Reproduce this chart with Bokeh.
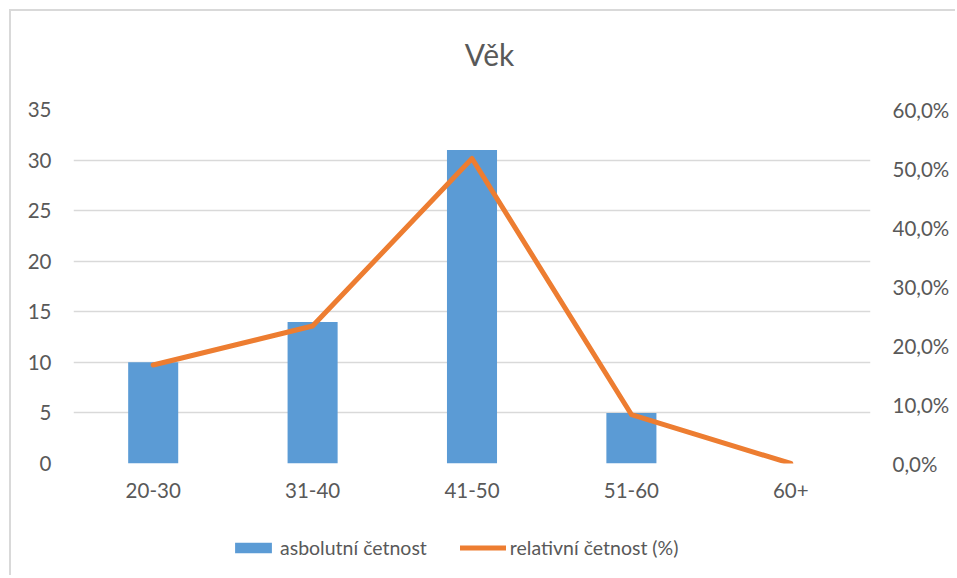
from bokeh.plotting import figure
from bokeh.layouts import column
from bokeh.models import (Range1d, LinearAxis, FixedTicker, Legend, LegendItem,
                          FactorRange, ColumnDataSource, Label)
from bokeh.embed import file_html
from bokeh.resources import INLINE

categories = ["20-30", "31-40", "41-50", "51-60", "60+"]
abs_counts = [10, 14, 31, 5, 0]
rel_pct = [16.7, 23.3, 51.7, 8.3, 0.0]
left_ticks = [0, 5, 10, 15, 20, 25, 30, 35]
right_ticks = [0, 10, 20, 30, 40, 50, 60]
right_labels = ["0,0%", "10,0%", "20,0%", "30,0%", "40,0%", "50,0%", "60,0%"]
title_text = "Věk"
series_names = ["asbolutní četnost", "relativní četnost (%)"]

FONT = "Lato"
TXT = "#595959"
BLUE = "#5B9BD5"
ORANGE = "#ED7D31"
GRID = "#D9D9D9"
FW, FH = 797, 354
BL, BR = 62, 85
LW = 5

src = ColumnDataSource(dict(cat=categories, abs=abs_counts, rel=rel_pct))


def strip(h, xr):
    f = figure(frame_width=FW, frame_height=h,
               x_range=xr, y_range=Range1d(0, h),
               min_border_left=BL, min_border_right=BR,
               min_border_top=0, min_border_bottom=0,
               x_axis_location=None, y_axis_location=None,
               output_backend="svg", toolbar_location=None)
    f.outline_line_color = None
    f.xgrid.grid_line_color = None
    f.ygrid.grid_line_color = None
    f.border_fill_color = "white"
    f.background_fill_color = "white"
    return f


# ---- title ----
pt = strip(60, Range1d(0, FW))
pt.add_layout(Label(x=416, y=18, text=title_text,
                    text_align="center", text_baseline="middle",
                    text_font=FONT, text_font_size="30px", text_color=TXT))

# ---- main chart ----
p = figure(x_range=FactorRange(*categories, range_padding=0),
           y_range=Range1d(0, 35),
           frame_width=FW, frame_height=FH,
           min_border_left=BL, min_border_right=BR,
           min_border_top=38, min_border_bottom=52,
           output_backend="svg", toolbar_location=None)
p.outline_line_color = None
p.background_fill_color = "white"
p.border_fill_color = "white"
p.extra_y_ranges = {"rel": Range1d(0, 60)}

bars = p.vbar(x="cat", top="abs", width=0.314, source=src, fill_color=BLUE,
              line_color=None)
line = p.line(x="cat", y="rel", source=src, y_range_name="rel",
              line_color=ORANGE, line_width=LW, line_cap="round",
              line_join="round")

yl = p.yaxis[0]
yl.ticker = FixedTicker(ticks=left_ticks)
yr = LinearAxis(y_range_name="rel", ticker=FixedTicker(ticks=right_ticks))
yr.major_label_overrides = {t: lab for t, lab in zip(right_ticks, right_labels)}
p.add_layout(yr, "right")

for ax in [yl, yr, p.xaxis[0]]:
    ax.axis_line_color = None
    ax.major_tick_line_color = None
    ax.minor_tick_line_color = None
    ax.major_tick_out = 0
    ax.minor_tick_out = 0
    ax.major_label_text_font = FONT
    ax.major_label_text_font_size = "20.5px"
    ax.major_label_text_color = TXT
yl.major_label_standoff = 22
yr.major_label_standoff = 22
p.xaxis[0].major_label_standoff = 19

p.xgrid.grid_line_color = None
p.ygrid.ticker = FixedTicker(ticks=left_ticks)
p.ygrid.grid_line_color = GRID
p.ygrid.grid_line_width = 1.3

# ---- legend (legend-only strip, series renderers hidden) ----
pl = strip(60, FactorRange(*categories, range_padding=0))
lb = pl.vbar(x="cat", top="abs", width=0.314, source=src, fill_color=BLUE,
             line_color=None, visible=False)
ll = pl.line(x="cat", y="rel", source=src, line_color=ORANGE, line_width=LW,
             line_cap="round", visible=False)
legend = Legend(items=[LegendItem(label=series_names[0], renderers=[lb]),
                       LegendItem(label=series_names[1], renderers=[ll])],
                orientation="horizontal", location=(157, 16),
                glyph_width=46, glyph_height=13, label_standoff=4,
                spacing=33, border_line_color=None,
                background_fill_alpha=0, inactive_fill_alpha=0,
                label_text_font=FONT,
                label_text_font_size="19.5px", label_text_color=TXT,
                margin=0, padding=0)
pl.add_layout(legend)

layout = column(pt, p, pl, spacing=0)
layout.styles = {"border-left": "2px solid #D9D9D9", "border-top": "2px solid #D9D9D9",
                 "margin-left": "9px", "margin-top": "9px"}

open("out.html", "w").write(file_html(layout, INLINE))
